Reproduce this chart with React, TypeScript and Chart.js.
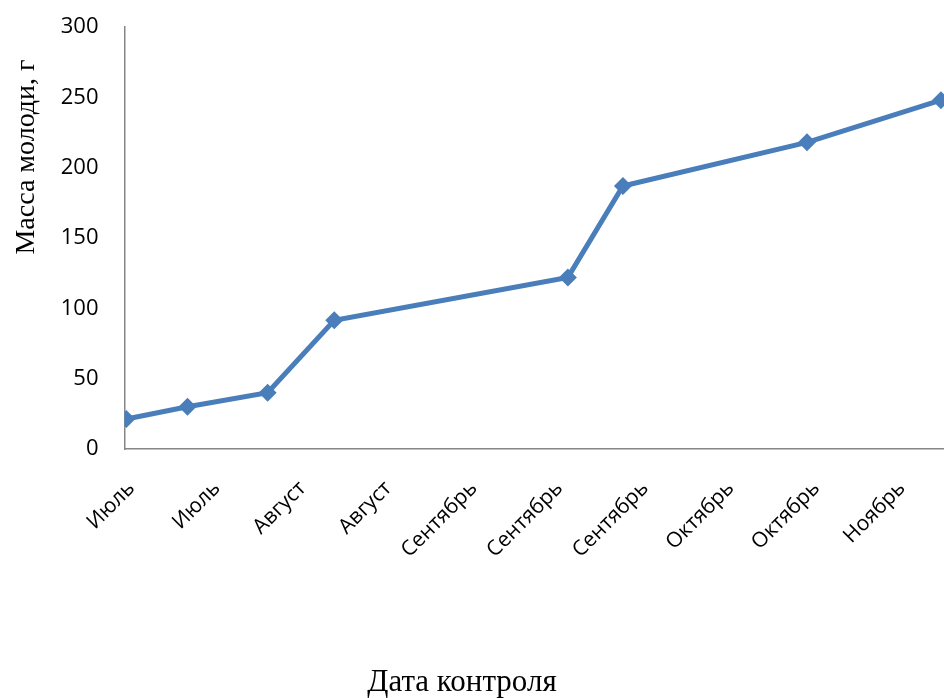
import React, { useEffect, useRef } from "react";
import { Chart, registerables } from "chart.js";

Chart.register(...registerables);

const tickLabels = ["Июль", "Июль", "Август", "Август", "Сентябрь", "Сентябрь", "Сентябрь", "Октябрь", "Октябрь", "Ноябрь"];
const dayStep = 14;
const sampleDays = [0.3, 10.3, 23.4, 34.3, 72.5, 81.5, 111.6, 133.5];
const massValues = [21.3, 30, 40, 91.5, 122, 187, 218, 248];
const yTitle = "Масса молоди, г";
const xTitle = "Дата контроля";

const titlePlugin = {
  id: "titles",
  afterDraw(chart: any) {
    const ctx = chart.ctx;
    ctx.save();
    ctx.fillStyle = "#000";
    ctx.textAlign = "center";
    ctx.textBaseline = "middle";
    ctx.font = '31px "Liberation Serif"';
    ctx.fillText(xTitle, 462, 683);
    ctx.font = '28px "Liberation Serif"';
    ctx.translate(27, 157);
    ctx.rotate(-Math.PI / 2);
    ctx.fillText(yTitle, 0, 0);
    ctx.restore();
  },
};

export default function App() {
  const ref = useRef<HTMLCanvasElement>(null);
  useEffect(() => {
    document.body.style.margin = "0";
    const chart = new Chart(ref.current!, {
      type: "line",
      data: {
        datasets: [
          {
            data: sampleDays.map((d, i) => ({ x: d, y: massValues[i] })),
            borderColor: "#4a7ebb",
            backgroundColor: "#4a7ebb",
            borderWidth: 5,
            pointStyle: "rectRot",
            pointRadius: 9,
            pointBorderWidth: 0,
            tension: 0,
          },
        ],
      },
      options: {
        animation: false,
        responsive: false,
        layout: { padding: { top: 27, right: 0, left: 0, bottom: 0 }, autoPadding: false },
        plugins: { legend: { display: false }, tooltip: { enabled: false } },
        scales: {
          x: {
            type: "linear",
            min: 0,
            max: 134,
            grid: { display: false, drawTicks: false },
            border: { color: "#868686", width: 1.5 },
            afterBuildTicks(scale: any) {
              scale.ticks = tickLabels.map((_, i) => ({ value: i * dayStep }));
            },
            afterFit(scale: any) {
              scale.height = 249;
              scale.paddingLeft = 0;
              scale.paddingRight = 0;
            },
            ticks: {
              autoSkip: false,
              maxRotation: 45,
              minRotation: 45,
              padding: 27,
              labelOffset: 7,
              color: "#000",
              font: { family: '"Open Sans"', size: 21 },
              callback: (v: any) => tickLabels[Math.round(v / dayStep)] ?? "",
            },
          },
          y: {
            min: 0,
            max: 300,
            grid: { display: false, drawTicks: false },
            border: { color: "#868686", width: 1.5 },
            afterFit(scale: any) {
              scale.width = 124.5;
              scale.paddingTop = 0;
              scale.paddingBottom = 0;
            },
            ticks: {
              stepSize: 50,
              padding: 26,
              color: "#000",
              font: { family: '"Open Sans"', size: 22 },
            },
          },
        },
      },
      plugins: [titlePlugin],
    });
    return () => chart.destroy();
  }, []);
  return <canvas ref={ref} width={944} height={698} style={{ display: "block" }} />;
}
